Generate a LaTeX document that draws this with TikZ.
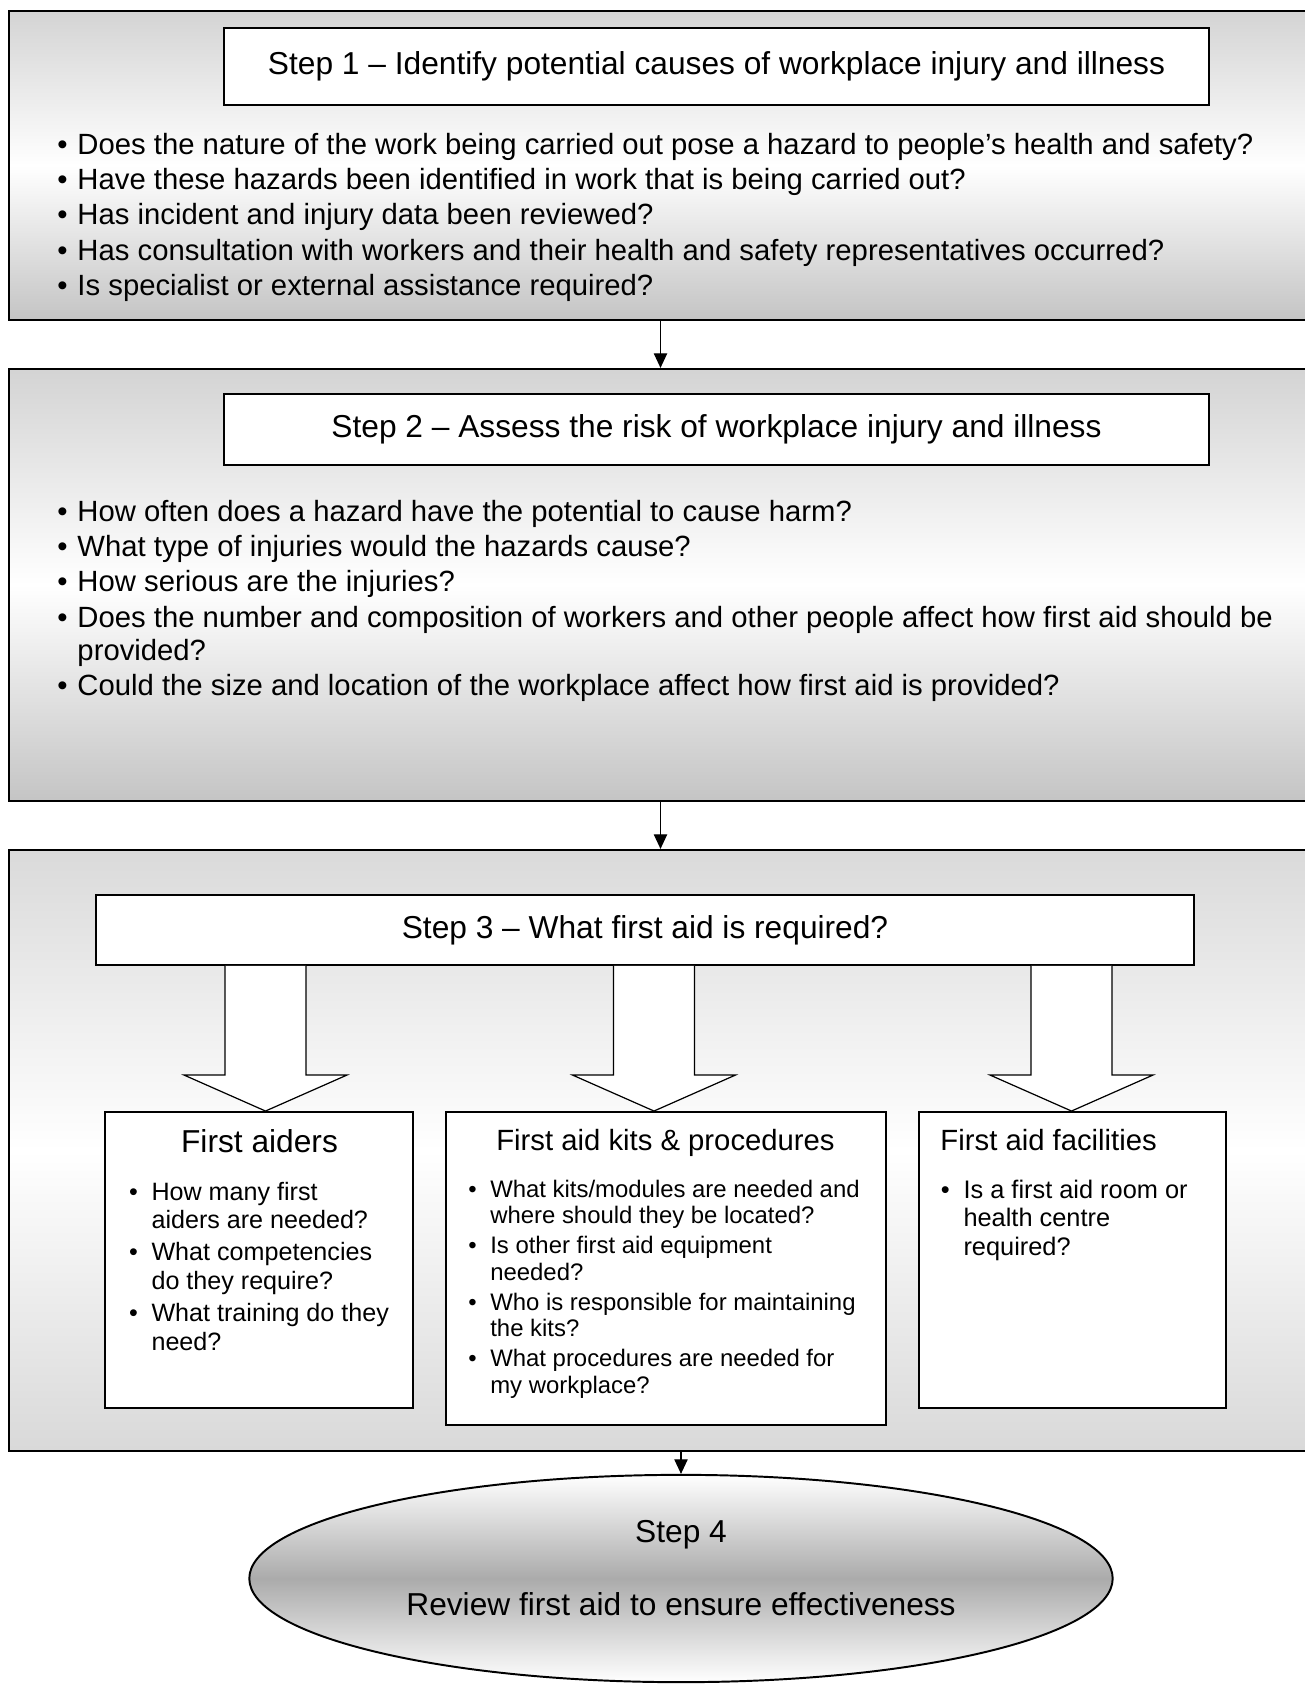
\documentclass[tikz,border=0pt]{standalone}
\usepackage{fontspec}
\setmainfont{Liberation Sans}
\usetikzlibrary{arrows.meta,calc,fit,shapes.geometric}
\newcommand{\stepfont}{\fontsize{13}{15.6}\selectfont}
\tikzset{stepzone/.style={draw=black,line width=.9pt,inner sep=0pt,top color=gray!34,bottom color=gray!46,middle color=white},
 aidzone/.style={draw=black,line width=.9pt,inner sep=0pt,top color=gray!29,bottom color=gray!30,middle color=white},
 titlebox/.style={draw=black,line width=.8pt,fill=white,inner sep=0pt,font=\stepfont},
 subbox/.style={draw=black,line width=.8pt,fill=white,inner sep=0pt},
 qlist/.style={inner sep=0pt,font=\fontsize{12}{14.5}\selectfont},
 subhead/.style={inner sep=0pt,font=\fontsize{12}{14}\selectfont},
 blockarrow/.style={draw=black,line width=.5pt,fill=white},
 link/.style={line width=.45pt,-{Triangle[length=6pt,width=5.5pt]}},
 review/.style={ellipse,draw=black,line width=.8pt,top color=white,bottom color=white,middle color=gray!66,minimum width=354pt,minimum height=85pt,inner sep=0pt}}
\begin{document}
\begin{tikzpicture}[x=0.41pt,y=-0.41pt]
\useasboundingbox (0,0) rectangle (1304,1684);
% step zones
\node[stepzone,fit={(9,11) (1312,320)}] (s1) {};
\node[stepzone,fit={(9,369) (1312,801)}] (s2) {};
\node[aidzone,fit={(9,850) (1312,1451)}] (s3) {};
\node[titlebox,minimum width=403.9pt,minimum height=31.6pt] (t1) at (716.5,66.5) {Step 1 – Identify potential causes of workplace injury and illness};
\node[titlebox,minimum width=403.9pt,minimum height=29.1pt] (t2) at (716.5,429.5) {Step 2 – Assess the risk of workplace injury and illness};
\node[titlebox,minimum width=450.2pt,minimum height=28.7pt] (t3) at (645,930) {Step 3 – What first aid is required?};
% questions
\node[qlist,anchor=base west] (q1) at (57,154) {\begin{tabular}[t]{@{}l@{\hspace{4pt}}l@{}}
• & Does the nature of the work being carried out pose a hazard to people’s health and safety?\\
• & Have these hazards been identified in work that is being carried out?\\
• & Has incident and injury data been reviewed?\\
• & Has consultation with workers and their health and safety representatives occurred?\\
• & Is specialist or external assistance required?
\end{tabular}};
\node[qlist,anchor=base west] (q2) at (57,521) {\begin{tabular}[t]{@{}l@{\hspace{4pt}}l@{}}
• & How often does a hazard have the potential to cause harm?\\
• & What type of injuries would the hazards cause?\\
• & How serious are the injuries?\\
• & Does the number and composition of workers and other people affect how first aid should be\\[-0.8pt]
 & provided?\\
• & Could the size and location of the workplace affect how first aid is provided?
\end{tabular}};
% first aid boxes
\node[subbox,fit={(105,1112) (413,1408)}] (aid) {};
\node[subbox,fit={(446,1112) (886,1425)}] (kit) {};
\node[subbox,fit={(919,1112) (1226,1408)}] (fac) {};
\node[subhead,font=\stepfont,anchor=base] (aidhead) at (259.5,1152.5) {First aiders};
\node[subhead,anchor=base] (kithead) at (665.5,1150) {First aid kits \& procedures};
\node[subhead,anchor=base west] (fachead) at (940,1150) {First aid facilities};
\node[inner sep=0pt,font=\fontsize{10.3}{11.5}\selectfont,anchor=base west] (aidlist) at (128.6,1200) {\begin{tabular}[t]{@{}l@{\hspace{5.6pt}}l@{}}
• & How many first\\ & aiders are needed?\\[2pt]
• & What competencies\\ & do they require?\\[2pt]
• & What training do they\\ & need?
\end{tabular}};
\node[inner sep=0pt,font=\fontsize{9.8}{10.9}\selectfont,anchor=base west] (kitlist) at (467.8,1197) {\begin{tabular}[t]{@{}l@{\hspace{5.6pt}}l@{}}
• & What kits/modules are needed and\\ & where should they be located?\\[1.4pt]
• & Is other first aid equipment\\ & needed?\\[1.4pt]
• & Who is responsible for maintaining\\ & the kits?\\[1.4pt]
• & What procedures are needed for\\ & my workplace?
\end{tabular}};
\node[inner sep=0pt,font=\fontsize{10.4}{11.7}\selectfont,anchor=base west] (faclist) at (940.5,1198) {\begin{tabular}[t]{@{}l@{\hspace{5.6pt}}l@{}}
• & Is a first aid room or\\ & health centre\\ & required?
\end{tabular}};
% block arrows
\foreach \n/\dx in {aid/6.5,kit/-12,fac/-1}{
 \coordinate (tip) at ($(\n.north)+(\dx,0)$);
 \coordinate (top) at (tip |- t3.south);
 \draw[blockarrow] ($(top)+(-40.5,0)$) -- ($(tip)+(-40.5,-36)$) -- ++(-41,0) -- (tip) -- ++(81.5,-36) -- ++(-41,0) -- ($(top)+(40.5,0)$);
}
% step 4
\node[review] (s4) at (681,1578.5) {};
\node[font=\stepfont,anchor=base] (s4a) at ($(s4.center)+(0,-36.3)$) {Step 4};
\node[font=\stepfont,anchor=base] (s4b) at ($(s4.center)+(0,36.5)$) {Review first aid to ensure effectiveness};
% links
\draw[link] (s1) -- (s2);
\draw[link] (s2) -- (s3);
\draw[link] (s3.south -| s4.north) -- (s4.north);
\end{tikzpicture}
\end{document}
